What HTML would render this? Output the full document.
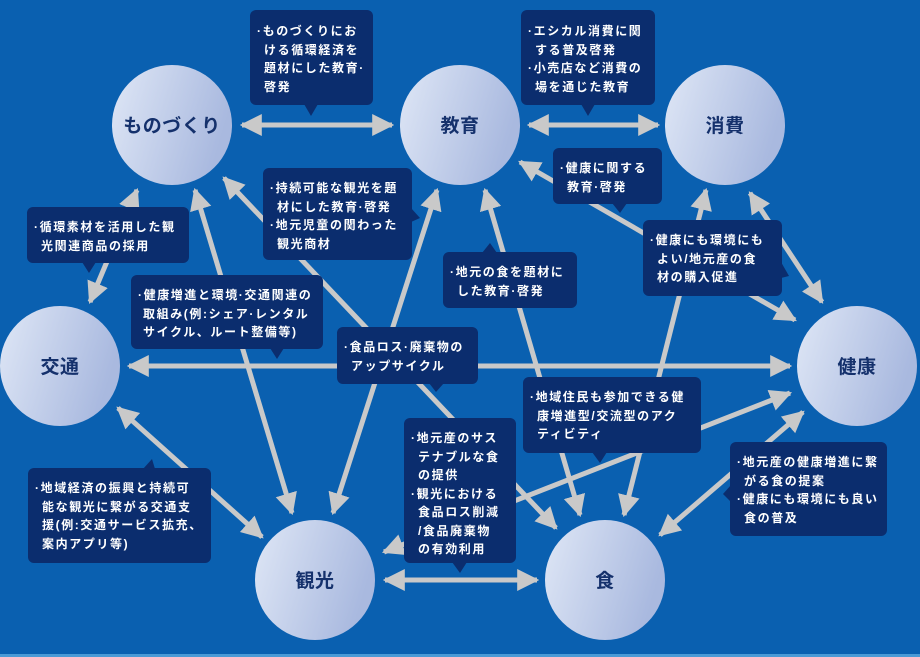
<!DOCTYPE html>
<html><head><meta charset="utf-8">
<style>
html,body{margin:0;padding:0;background:#0a60b0;}
svg{display:block;}
.t{font-family:"Liberation Sans","Noto Sans CJK JP",sans-serif;font-size:12px;font-weight:bold;fill:#fff;letter-spacing:1.6px;}
.c{font-family:"Liberation Sans","Noto Sans CJK JP",sans-serif;font-size:19px;font-weight:bold;fill:#15316c;text-anchor:middle;letter-spacing:0.5px;}
</style></head><body>
<svg width="920" height="657" viewBox="0 0 920 657" xmlns="http://www.w3.org/2000/svg">
<defs>
<linearGradient id="g" x1="0" y1="0" x2="1" y2="0.3">
<stop offset="0" stop-color="#dfe7f6"/><stop offset="1" stop-color="#a9b9df"/>
</linearGradient>
<marker id="a" viewBox="0 0 10 10" refX="9" refY="5" markerWidth="4.4" markerHeight="4.8" orient="auto-start-reverse" markerUnits="strokeWidth">
<path d="M0,0 L10,5 L0,10 z" fill="#c9c9c9"/>
</marker>
</defs>
<rect x="0" y="0" width="920" height="657" fill="#0a60b0"/>
<rect x="0" y="654" width="920" height="3" fill="#4a9ad6"/>
<g stroke="#c9c9c9" stroke-width="5" fill="none" marker-start="url(#a)" marker-end="url(#a)">
<line x1="242" y1="125" x2="392" y2="125"/>
<line x1="529" y1="125" x2="658" y2="125"/>
<line x1="129" y1="366" x2="790" y2="366"/>
<line x1="385" y1="580" x2="537" y2="580"/>
<line x1="137" y1="190" x2="90" y2="302"/>
<line x1="195" y1="190" x2="292" y2="513"/>
<line x1="224" y1="178" x2="556" y2="528"/>
<line x1="437" y1="190" x2="333" y2="513"/>
<line x1="485" y1="190" x2="580" y2="515"/>
<line x1="706" y1="190" x2="624" y2="515"/>
<line x1="520" y1="162" x2="795" y2="320"/>
<line x1="750" y1="193" x2="822" y2="302"/>
<line x1="790" y1="393" x2="384" y2="552"/>
<line x1="803" y1="412" x2="660" y2="535"/>
<line x1="118" y1="408" x2="262" y2="537"/>
</g>
<g fill="#0b2d6e">
<rect x="250" y="10" width="123" height="95" rx="6"/><path d="M304,104 L311,116 L318,104z"/>
<rect x="521" y="10" width="134" height="95" rx="6"/><path d="M581,104 L588,116 L595,104z"/>
<rect x="27" y="207" width="162" height="56" rx="6"/><path d="M82,262 L89,273 L96,262z"/>
<rect x="263" y="168" width="149" height="92" rx="6"/><path d="M411,208 L420,218 L411,222z"/>
<rect x="553" y="148" width="109" height="56" rx="6"/><path d="M612,203 L620,213 L627,203z"/>
<rect x="443" y="252" width="134" height="56" rx="6"/><path d="M482,253 L490,243 L497,253z"/>
<rect x="643" y="220" width="139" height="76" rx="6"/><path d="M781,262 L789,276 L781,278z"/>
<rect x="131" y="275" width="192" height="74" rx="6"/><path d="M270,348 L277,359 L284,348z"/>
<rect x="337" y="327" width="141" height="57" rx="6"/><path d="M429,383 L436,392 L444,383z"/>
<rect x="523" y="377" width="178" height="76" rx="6"/><path d="M592,452 L600,463 L607,452z"/>
<rect x="404" y="418" width="112" height="145" rx="6"/><path d="M452,562 L460,573 L467,562z"/>
<rect x="730" y="442" width="157" height="94" rx="6"/><path d="M731,485 L723,494 L731,502z"/>
<rect x="28" y="468" width="183" height="95" rx="6"/><path d="M143,469 L152,459 L155,469z"/>
</g>
<g class="t">
<text x="257" y="35">·ものづくりにお</text><text x="264" y="54">ける循環経済を</text><text x="264" y="72">題材にした教育·</text><text x="264" y="91">啓発</text>
<text x="528" y="35">·エシカル消費に関</text><text x="535" y="54">する普及啓発</text><text x="528" y="72">·小売店など消費の</text><text x="535" y="91">場を通じた教育</text>
<text x="34" y="231">·循環素材を活用した観</text><text x="41" y="250">光関連商品の採用</text>
<text x="270" y="192">·持続可能な観光を題</text><text x="277" y="211">材にした教育·啓発</text><text x="270" y="229">·地元児童の関わった</text><text x="277" y="248">観光商材</text>
<text x="560" y="172">·健康に関する</text><text x="567" y="191">教育·啓発</text>
<text x="450" y="276">·地元の食を題材に</text><text x="457" y="295">した教育·啓発</text>
<text x="650" y="244">·健康にも環境にも</text><text x="657" y="263">よい/地元産の食</text><text x="657" y="281">材の購入促進</text>
<text x="138" y="299">·健康増進と環境·交通関連の</text><text x="143" y="318">取組み(例:シェア·レンタル</text><text x="143" y="336">サイクル、ルート整備等)</text>
<text x="344" y="351">·食品ロス·廃棄物の</text><text x="351" y="370">アップサイクル</text>
<text x="530" y="401">·地域住民も参加できる健</text><text x="537" y="420">康増進型/交流型のアク</text><text x="537" y="438">ティビティ</text>
<text x="411" y="442">·地元産のサス</text><text x="418" y="461">テナブルな食</text><text x="418" y="479">の提供</text><text x="411" y="498">·観光における</text><text x="418" y="516">食品ロス削減</text><text x="418" y="535">/食品廃棄物</text><text x="418" y="553">の有効利用</text>
<text x="737" y="466">·地元産の健康増進に繋</text><text x="744" y="485">がる食の提案</text><text x="737" y="503">·健康にも環境にも良い</text><text x="744" y="522">食の普及</text>
<text x="35" y="492">·地域経済の振興と持続可</text><text x="42" y="511">能な観光に繋がる交通支</text><text x="42" y="529">援(例:交通サービス拡充、</text><text x="42" y="548">案内アプリ等)</text>
</g>
<g fill="url(#g)">
<circle cx="172" cy="125" r="60"/>
<circle cx="460" cy="125" r="60"/>
<circle cx="725" cy="125" r="60"/>
<circle cx="60" cy="366" r="60"/>
<circle cx="857" cy="366" r="60"/>
<circle cx="315" cy="580" r="60"/>
<circle cx="605" cy="580" r="60"/>
</g>
<g class="c">
<text x="172" y="132">ものづくり</text>
<text x="460" y="132">教育</text>
<text x="725" y="132">消費</text>
<text x="60" y="373">交通</text>
<text x="857" y="373">健康</text>
<text x="315" y="587">観光</text>
<text x="605" y="587">食</text>
</g>
</svg>
</body></html>
